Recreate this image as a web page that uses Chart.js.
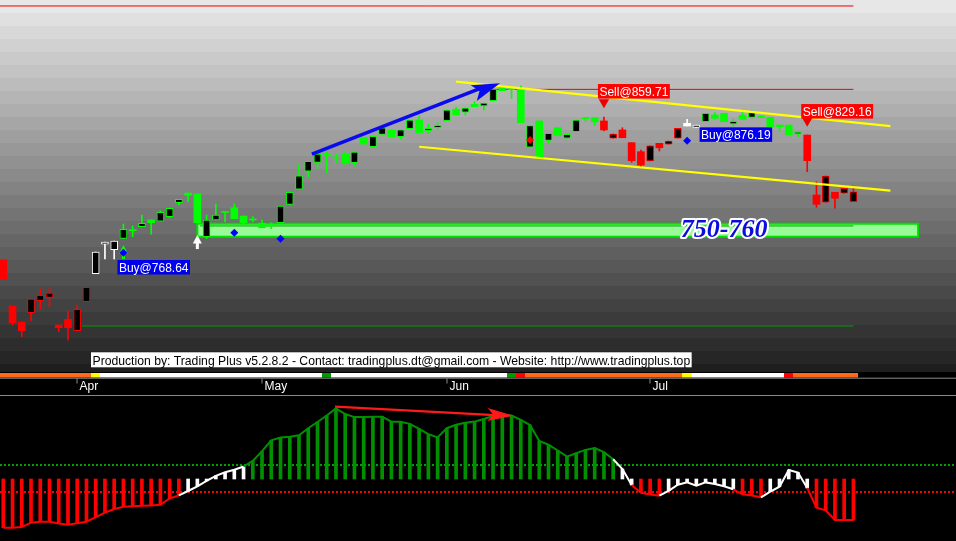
<!DOCTYPE html>
<html>
<head>
<meta charset="utf-8">
<script src="https://cdn.jsdelivr.net/npm/chart.js@4.4.1/dist/chart.umd.min.js"></script>
<style>
  html, body { margin: 0; padding: 0; background: #000; }
  #wrap { width: 956px; height: 541px; position: relative; overflow: hidden; }
  #priceChart { position: absolute; left: 0; top: 0; }
  #oscChart { position: absolute; left: 0; top: 395px; }
</style>
</head>
<body>
<div id="wrap">
  <canvas id="priceChart" width="956" height="395"></canvas>
  <canvas id="oscChart" width="956" height="146"></canvas>
</div>
<script>
// daily candles (bar index 0..92)
const opens = [732.1,696.7,684.4,691.6,700.8,703.4,682.1,686.5,677.8,700.1,
  721.6,744.2,740.0,748.8,754.6,757.7,762.9,761.9,765.4,776.2,
  783.6,782.9,750.0,762.9,768.9,772.3,765.9,762.9,760.3,758.8,
  760.8,774.9,786.5,800.5,807.2,813.1,810.5,813.6,806.9,826.4,
  819.2,828.7,832.1,826.9,833.1,839.7,831.5,833.8,839.2,848.0,
  845.7,851.8,850.5,854.6,864.9,863.3,863.6,818.8,839.0,824.1,
  833.8,825.7,830.7,841.1,841.5,839.0,825.7,832.1,822.3,815.4,
  808.2,821.8,821.1,825.7,837.2,834.1,838.4,843.6,844.9,836.7,
  843.4,841.8,842.8,841.8,835.9,835.9,829.0,828.2,782.1,776.5,
  784.2,783.4,776.9];
const highs = [732.1,696.7,684.4,702.1,709.8,711.1,682.1,692.9,697.5,711.1,
  738.3,745.9,746.7,759.8,758.3,766.7,762.9,770.0,771.9,778.8,
  783.6,782.9,766.7,775.2,768.9,775.2,765.9,765.4,762.9,760.8,
  773.6,784.2,805.7,808.0,813.6,815.4,813.6,815.4,815.1,826.4,
  827.2,833.8,832.1,832.1,839.7,843.1,836.7,837.7,847.4,849.7,
  849.0,853.8,852.8,863.6,864.9,863.3,865.9,835.4,839.0,829.5,
  833.8,828.7,839.7,841.8,841.5,842.0,829.0,833.8,822.3,816.7,
  819.8,821.8,823.6,833.4,840.3,835.9,844.9,845.4,844.9,840.3,
  845.4,846.9,842.8,841.8,835.9,835.9,830.5,828.2,792.3,796.7,
  784.2,787.2,789.0];
const lows = [717.3,682.1,673.1,685.4,694.4,696.2,677.0,670.6,677.8,700.1,
  721.6,732.9,732.9,748.8,750.0,757.7,751.9,761.9,764.6,774.4,
  776.9,760.8,748.5,762.9,761.6,763.9,759.0,761.6,756.9,756.2,
  760.8,774.9,786.5,796.2,802.3,798.8,806.9,805.1,804.4,821.3,
  819.2,828.7,826.9,825.1,833.1,830.0,829.5,832.6,839.2,843.6,
  843.6,850.0,847.4,854.6,862.3,856.4,837.7,818.8,811.1,821.8,
  827.7,825.7,830.7,838.4,835.9,831.3,825.7,826.1,807.2,803.8,
  808.2,815.9,821.1,825.7,835.1,834.1,838.4,840.3,838.4,835.1,
  840.3,841.1,841.8,834.6,830.7,828.2,826.9,800.0,772.6,776.5,
  771.9,783.4,776.9];
const closes = [717.3,683.9,677.8,702.1,705.0,706.7,680.1,680.1,694.2,711.1,
  738.3,745.9,746.7,755.7,754.6,760.3,760.8,768.8,771.9,778.8,
  781.9,760.8,762.9,766.7,768.6,763.9,760.8,762.9,756.9,758.8,
  773.6,784.2,796.9,808.0,813.6,813.1,810.5,806.9,815.1,821.3,
  827.2,833.8,826.9,832.1,839.7,830.0,833.4,835.7,847.4,843.6,
  849.0,850.0,852.8,863.6,862.3,863.1,837.7,835.4,811.1,829.5,
  827.7,828.7,839.7,840.7,838.4,832.1,829.0,826.1,808.5,805.1,
  819.8,818.4,823.6,833.4,835.1,835.9,844.9,841.1,838.4,838.7,
  840.3,845.4,841.8,834.6,834.6,828.2,830.5,808.5,774.9,796.7,
  779.5,787.2,784.6];
// trend state per bar: 1 up, -1 down, 0 neutral
const trend = [-1,-1,-1,-1,-1,-1,-1,-1,-1,-1, 0,0,0,
  1,1,1,1,1,1,1,1,1,1,1,1,1,1,1,1,1,1,1,1,1,1,1,1,1,1,1,1,1,1,1,1,1,1,1,1,1,1,1,1,1,1,1,1,1,1,1,1,1,1,1,1,
  -1,-1,-1,-1,-1,-1,-1,-1,-1, 0,0,
  1,1,1,1,1,1,1,1,1,1,1,
  -1,-1,-1,-1,-1,-1];
// signal strip under the price panel
const stripState = ['O','O','O','O','O','O','O','O','O','O','Y',
  'W','W','W','W','W','W','W','W','W','W','W','W','W','W','W','W','W','W','W','W','W','W','W','W','G',
  'W','W','W','W','W','W','W','W','W','W','W','W','W','W','W','W','W','W','W','G','R',
  'O','O','O','O','O','O','O','O','O','O','O','O','O','O','O','O','O','Y',
  'W','W','W','W','W','W','W','W','W','W','R',
  'O','O','O','O','O','O','O'];
// oscillator
const oscValues = [-48.7,-48.7,-47.9,-43.7,-42.7,-42.7,-44.4,-45.8,-44.3,-42.7,
  -38.2,-33.6,-30,-27.7,-27.3,-26.8,-26.4,-25.8,-19.5,-16.4,
  -12,-7.3,-1.9,3.2,6.7,9.2,12.5,18.1,27.8,38.7,
  41.4,42.3,43.8,50.8,57,63.5,70.5,65,61.9,62,
  62.3,62.3,57.3,57.3,55.1,50.1,44.8,41.6,50.8,54.2,
  56.3,57.4,60,63,64,63.5,59.1,54,38,34.3,
  28.5,22.3,25.9,29.1,31,26.8,19.8,10,-6,-13.7,
  -15.4,-16.7,-11.8,-5.7,-3.3,-6.6,-3.4,-5,-7.3,-10.3,
  -15.3,-16.5,-18.3,-12.7,-7.7,9,6.5,-9,-28.7,-31.3,
  -41,-41,-41];
const oscUpper = 14;
const oscLower = -13;

const monthLabels = ['Apr', 'May', 'Jun', 'Jul'];
const monthStartBars = [8, 28, 48, 70];

// support zone and drawn levels
const zoneLow = 750, zoneHigh = 760, zoneFrom = 21, zoneTo = 99;
const topLevel = 927.4, peakLevel = 863.3, zoneInner = 758.3, bottomLevel = 681.4;
const channelUpper = [{ x: 49, y: 869.2 }, { x: 96, y: 835.1 }];
const channelLower = [{ x: 45, y: 819.2 }, { x: 96, y: 785.4 }];
const trendArrow = [{ x: 33.4, y: 813.6 }, { x: 53.75, y: 868.0 }];
const oscArrow = [{ x: 35.9, y: 72.3 }, { x: 55.2, y: 63.3 }];

// signals
const labelBars = [13, 65, 76, 87];
const labelTexts = ['Buy@768.64', 'Sell@859.71', 'Buy@876.19', 'Sell@829.16'];
const labelTops = [732.1, 867.4, 834.1, 852.0];
const sellMarkBars = [65, 87];
const sellMarkPrices = [853.3, 839.2];
const blueDotBars = [13, 25, 30, 74];
const blueDotPrices = [737.7, 753.1, 748.5, 823.8];
const redDotBars = [57];
const redDotPrices = [824.4];
const upArrowBars = [13, 21];
const upArrowTips = [743.6, 751.3];

const footerText = 'Production by: Trading Plus v5.2.8.2 - Contact: tradingplus.dt@gmail.com - Website: http://www.tradingplus.top';

const xMin = -0.357, xMax = 103.1;
const sansFont = '"Liberation Sans", Arial, sans-serif';

const barIdx = opens.map((_, i) => i);
const trendColor = t => t > 0 ? '#00ff00' : (t < 0 ? '#ff0000' : '#ffffff');
const stripColors = { O: '#ff6a1a', Y: '#ffff00', W: '#ffffff', G: '#009900', R: '#ff0000' };
const oscColor = v => v > oscUpper ? '#009000' : (v < oscLower ? '#ff0000' : '#ffffff');

function lineSet(points, color, width, order) {
  return { type: 'line', data: points, borderColor: color, borderWidth: width,
    pointRadius: 0, fill: false, tension: 0, order: order };
}
function dotSet(bars, prices, color, style, radius, rotation) {
  return { type: 'line', showLine: false, data: bars.map((b, k) => ({ x: b, y: prices[k] })),
    pointStyle: style, pointRadius: radius, pointRotation: rotation || 0,
    pointBackgroundColor: color, pointBorderWidth: 0, order: -3 };
}
function arrowHead(c, p0, p1, len, half, color) {
  const ang = Math.atan2(p1.y - p0.y, p1.x - p0.x);
  c.save();
  c.translate(p1.x, p1.y);
  c.rotate(ang);
  c.beginPath();
  c.moveTo(0, 0);
  c.lineTo(-len, -half);
  c.lineTo(-len * 0.78, 0);
  c.lineTo(-len, half);
  c.closePath();
  c.fillStyle = color;
  c.fill();
  c.restore();
}

const priceDecor = {
  id: 'priceDecor',
  beforeDraw(chart) {
    const c = chart.ctx;
    c.save();
    c.fillStyle = '#000';
    c.fillRect(0, 0, chart.width, chart.height);
    // banded gray background
    for (let y = 0; y < 372; y += 13) {
      const g = Math.max(26, Math.round(234 - 0.55 * (y + 6)));
      c.fillStyle = 'rgb(' + g + ',' + g + ',' + g + ')';
      c.fillRect(0, y, chart.width, Math.min(13, 372 - y));
    }
    c.restore();
  },
  beforeDatasetsDraw(chart) {
    const c = chart.ctx, xs = chart.scales.x, ys = chart.scales.y;
    const x0 = xs.getPixelForValue(zoneFrom), x1 = xs.getPixelForValue(zoneTo);
    const y0 = ys.getPixelForValue(zoneHigh), y1 = ys.getPixelForValue(zoneLow);
    c.save();
    c.fillStyle = '#98fb98';
    c.fillRect(x0, y0, x1 - x0, y1 - y0);
    c.strokeStyle = '#00e000';
    c.lineWidth = 2;
    c.strokeRect(x0, y0, x1 - x0, y1 - y0);
    upArrowBars.forEach((b, k) => {
      const x = xs.getPixelForValue(b), y = ys.getPixelForValue(upArrowTips[k]);
      c.fillStyle = k === 0 ? '#00ff00' : '#ffffff';
      c.beginPath();
      c.moveTo(x, y);
      c.lineTo(x + 4.5, y + 8.5);
      c.lineTo(x - 4.5, y + 8.5);
      c.closePath();
      c.fill();
      c.fillRect(x - 1.5, y + 8, 3, 6);
    });
    c.restore();
  },
  afterDatasetsDraw(chart) {
    const c = chart.ctx, xs = chart.scales.x, ys = chart.scales.y;
    const px = p => ({ x: xs.getPixelForValue(p.x), y: ys.getPixelForValue(p.y) });
    c.save();
    arrowHead(c, px(trendArrow[0]), px(trendArrow[1]), 28, 8.5, '#0a0af0');

    // zone caption
    c.font = 'italic bold 26px "Liberation Serif", "Times New Roman", serif';
    c.textAlign = 'center';
    c.textBaseline = 'middle';
    const tx = xs.getPixelForValue(78), ty = ys.getPixelForValue((zoneLow + zoneHigh) / 2);
    c.lineJoin = 'round';
    c.lineWidth = 4;
    c.strokeStyle = '#ffffff';
    c.strokeText(zoneLow + '-' + zoneHigh, tx, ty);
    c.fillStyle = '#0c0cdc';
    c.fillText(zoneLow + '-' + zoneHigh, tx, ty);

    // signal labels
    c.font = '12px ' + sansFont;
    c.textAlign = 'left';
    c.textBaseline = 'alphabetic';
    labelBars.forEach((b, k) => {
      const left = xs.getPixelForValue(b) - 6, top = ys.getPixelForValue(labelTops[k]);
      const w = c.measureText(labelTexts[k]).width + 3;
      c.fillStyle = labelTexts[k].startsWith('Buy') ? '#0000ee' : '#ff0000';
      c.fillRect(left, top, w, 14.5);
      c.fillStyle = '#ffffff';
      c.fillText(labelTexts[k], left + 1.5, top + 12);
    });

    // footer
    c.font = '12.2px ' + sansFont;
    const fw = c.measureText(footerText).width + 3;
    c.fillStyle = '#ffffff';
    c.fillRect(91, 352.3, fw, 15);
    c.fillStyle = '#000000';
    c.fillText(footerText, 92.5, 364.6);

    // signal strip
    barIdx.forEach(i => {
      const a = Math.round(xs.getPixelForValue(i - 0.5)), b = Math.round(xs.getPixelForValue(i + 0.5));
      c.fillStyle = stripColors[stripState[i]];
      c.fillRect(a, 373, b - a, 4.5);
    });

    // time axis
    c.font = '12px ' + sansFont;
    c.fillStyle = '#8a8a8a';
    c.fillRect(0, 377.7, chart.width, 1);
    monthStartBars.forEach((b, k) => {
      const x = Math.round(xs.getPixelForValue(b));
      c.fillStyle = '#8a8a8a';
      c.fillRect(x - 0.5, 378.5, 1, 5);
      c.fillStyle = '#ffffff';
      c.fillText(monthLabels[k], x + 2.5, 389.5);
    });
    c.restore();
  }
};

new Chart(document.getElementById('priceChart'), {
  type: 'bar',
  data: {
    datasets: [
      {
        type: 'bar', label: 'body', order: 0, grouped: false,
        data: barIdx.map(i => ({ x: i, y: [opens[i], closes[i]] })),
        barThickness: 7, minBarLength: 1, borderSkipped: false,
        backgroundColor: ctx => {
          const i = ctx.dataIndex;
          if (i === undefined) return '#000';
          return closes[i] > opens[i] ? '#000000' : trendColor(trend[i]);
        },
        borderColor: ctx => ctx.dataIndex === undefined ? '#000' : trendColor(trend[ctx.dataIndex]),
        borderWidth: ctx => {
          const i = ctx.dataIndex;
          if (i === undefined) return 0;
          return closes[i] > opens[i] ? 1 : 0;
        }
      },
      {
        type: 'bar', label: 'wick', order: 1, grouped: false,
        data: barIdx.map(i => ({ x: i, y: [lows[i], highs[i]] })),
        barThickness: 1, minBarLength: 1, borderWidth: 0,
        backgroundColor: ctx => ctx.dataIndex === undefined ? '#000' : trendColor(trend[ctx.dataIndex])
      },
      lineSet([{ x: xMin, y: topLevel }, { x: 92, y: topLevel }], '#ee0000', 1, 2),
      lineSet([{ x: 53, y: peakLevel }, { x: 92, y: peakLevel }], '#ee0000', 1, 2),
      lineSet([{ x: 8.5, y: bottomLevel }, { x: 92, y: bottomLevel }], '#00a000', 1, 2),
      lineSet([{ x: zoneFrom + 0.3, y: zoneInner }, { x: 92, y: zoneInner }], '#00a000', 1, 2),
      lineSet(channelUpper, '#ffff00', 2.2, -1),
      lineSet(channelLower, '#ffff00', 2.2, -1),
      lineSet(trendArrow.map((p, k) => k === 1 ? { x: p.x - 1.5, y: p.y - 2.2 } : p), '#0a0af0', 3.5, -2),
      dotSet(sellMarkBars, sellMarkPrices, '#ee0000', 'triangle', 6, 180),
      dotSet(blueDotBars, blueDotPrices, '#0000ff', 'rectRot', 4),
      dotSet(redDotBars, redDotPrices, '#ff0000', 'rectRot', 4)
    ]
  },
  options: {
    responsive: false,
    animation: false,
    devicePixelRatio: 1,
    layout: { autoPadding: false, padding: { left: 0, right: 0, top: 0, bottom: 17 } },
    plugins: { legend: { display: false }, tooltip: { enabled: false } },
    scales: {
      x: { type: 'linear', min: xMin, max: xMax, offset: false, display: false },
      y: { type: 'linear', min: 641.4, max: 932, display: false }
    }
  },
  plugins: [priceDecor]
});

const oscDecor = {
  id: 'oscDecor',
  beforeDraw(chart) {
    const c = chart.ctx;
    c.save();
    c.fillStyle = '#000';
    c.fillRect(0, 0, chart.width, chart.height);
    c.restore();
  },
  afterDatasetsDraw(chart) {
    const c = chart.ctx, xs = chart.scales.x, ys = chart.scales.y;
    const px = p => ({ x: xs.getPixelForValue(p.x), y: ys.getPixelForValue(p.y) });
    c.save();
    arrowHead(c, px(oscArrow[0]), px(oscArrow[1]), 26, 6.5, '#ff1a1a');
    c.fillStyle = '#8a8a8a';
    c.fillRect(0, 0, chart.width, 1);
    c.restore();
  }
};

new Chart(document.getElementById('oscChart'), {
  type: 'bar',
  data: {
    datasets: [
      {
        type: 'bar', order: 2, grouped: false,
        data: barIdx.map(i => ({ x: i, y: oscValues[i] })),
        barThickness: 3, borderWidth: 0,
        backgroundColor: ctx => ctx.dataIndex === undefined ? '#fff' : oscColor(oscValues[ctx.dataIndex])
      },
      Object.assign(lineSet([{ x: xMin, y: oscUpper }, { x: xMax, y: oscUpper }], '#00a000', 2, 3), { borderDash: [2, 2] }),
      Object.assign(lineSet([{ x: xMin, y: oscLower }, { x: xMax, y: oscLower }], '#ff0000', 2, 3), { borderDash: [2, 2] }),
      Object.assign(lineSet(barIdx.map(i => ({ x: i, y: oscValues[i] })), '#009000', 2, 0), {
        segment: { borderColor: ctx => oscColor(ctx.p1.parsed.y) }
      }),
      lineSet([oscArrow[0], { x: oscArrow[1].x - 1.5, y: oscArrow[1].y + 0.3 }], '#ff1a1a', 2.2, -1)
    ]
  },
  options: {
    responsive: false,
    animation: false,
    devicePixelRatio: 1,
    layout: { autoPadding: false },
    plugins: { legend: { display: false }, tooltip: { enabled: false } },
    scales: {
      x: { type: 'linear', min: xMin, max: xMax, offset: false, display: false },
      y: { type: 'linear', min: -62, max: 84, display: false }
    }
  },
  plugins: [oscDecor]
});
</script>
</body>
</html>
